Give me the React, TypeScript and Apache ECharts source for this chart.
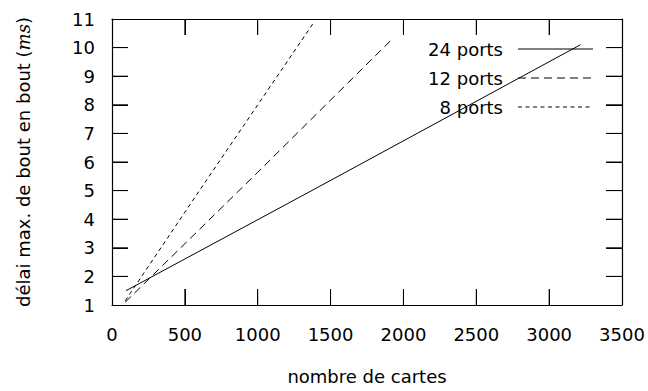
import React, { useEffect, useRef } from "react";
import * as echarts from "echarts";

const seriesNames = ["24 ports", "12 ports", "8 ports"];
const cards24 = [96, 1400, 3215];
const delay24 = [1.5, 5.08, 10.1];
const cards12 = [91, 1000, 1929];
const delay12 = [1.1, 5.64, 10.33];
const cards8 = [91, 600, 1381];
const delay8 = [1.15, 5.0, 10.85];
const dashTypes: any[] = ["solid", [8, 5], [4, 3.5]];
const xTicks = [0, 500, 1000, 1500, 2000, 2500, 3000, 3500];
const yTicks = [1, 2, 3, 4, 5, 6, 7, 8, 9, 10, 11];

const FONT = "DejaVu Sans";

export default function App() {
  const ref = useRef<HTMLDivElement>(null);
  useEffect(() => {
    if (!ref.current) return;
    const chart = echarts.init(ref.current, null, { renderer: "svg" });
    const pairs = (xs: number[], ys: number[]) => xs.map((x, i) => [x, ys[i]]);
    const datasets = [pairs(cards24, delay24), pairs(cards12, delay12), pairs(cards8, delay8)];
    const axisLine = () => ({ show: true, onZero: false, lineStyle: { color: "#000", width: 1.2 } });
    const tick = () => ({ show: true, inside: true, length: 16, lineStyle: { color: "#000", width: 1 } });
    const xMin = xTicks[0], xMax = xTicks[xTicks.length - 1];
    const yMin = yTicks[0], yMax = yTicks[yTicks.length - 1];
    const lbl = { fontFamily: FONT, fontSize: 18, color: "#000" };

    const legendRows = [49, 78, 107];
    const legendGraphics: any[] = [];
    seriesNames.forEach((name, i) => {
      legendGraphics.push({
        type: "text",
        x: 503,
        y: legendRows[i],
        style: { text: name, fill: "#000", font: `18px "${FONT}"`, align: "right", verticalAlign: "middle" },
      });
      legendGraphics.push({
        type: "line",
        shape: { x1: 518, y1: legendRows[i], x2: 593, y2: legendRows[i] },
        style: { stroke: "#000", lineWidth: 1, lineDash: dashTypes[i] === "solid" ? null : dashTypes[i] },
      });
    });

    chart.setOption({
      animation: false,
      grid: [{ left: 112, right: 26, top: 19, bottom: 86 }],
      graphic: legendGraphics,
      xAxis: [
        {
          type: "value",
          min: xMin,
          max: xMax,
          interval: 500,
          name: "nombre de cartes",
          nameLocation: "middle",
          nameGap: 62,
          nameTextStyle: lbl,
          axisLine: axisLine(),
          axisTick: tick(),
          axisLabel: { ...lbl, margin: 20, formatter: (v: number) => String(v) },
          splitLine: { show: false },
        },
        {
          type: "value",
          position: "top",
          min: xMin,
          max: xMax,
          interval: 500,
          axisLine: axisLine(),
          axisTick: tick(),
          axisLabel: { show: false },
          splitLine: { show: false },
        },
      ],
      yAxis: [
        {
          type: "value",
          min: yMin,
          max: yMax,
          interval: 1,
          name: "{a|délai max. de bout en bout (}{i|ms}{a|)}",
          nameLocation: "middle",
          nameRotate: 90,
          nameGap: 80,
          nameTextStyle: {
            ...lbl,
            rich: {
              a: { fontFamily: FONT, fontSize: 18, color: "#000" },
              i: { fontFamily: "DejaVu Serif", fontStyle: "italic", fontSize: 18, color: "#000" },
            },
          },
          axisLine: axisLine(),
          axisTick: tick(),
          axisLabel: { ...lbl, margin: 17 },
          splitLine: { show: false },
        },
        {
          type: "value",
          position: "right",
          min: yMin,
          max: yMax,
          interval: 1,
          axisLine: axisLine(),
          axisTick: tick(),
          axisLabel: { show: false },
          splitLine: { show: false },
        },
      ],
      series: seriesNames.map((name, i) => ({
        name,
        type: "line",
        xAxisIndex: 0,
        yAxisIndex: 0,
        data: datasets[i],
        symbol: "none",
        itemStyle: { color: "#000" },
        lineStyle: { color: "#000", width: 1, type: dashTypes[i] },
      })),
    });

    // mirrored inward tick marks on all four sides, placed through the axes' own scales
    const finder = { xAxisIndex: 0, yAxisIndex: 0 };
    const toPx = (x: number, y: number) => chart.convertToPixel(finder, [x, y]) as number[];
    const bottomY = toPx(xMin, yMin)[1];
    const topY = toPx(xMin, yMax)[1];
    const leftX = toPx(xMin, yMin)[0];
    const rightX = toPx(xMax, yMin)[0];
    const TL = 16;
    const tickStyle = { stroke: "#000", lineWidth: 1 };
    const tickGraphics: any[] = [];
    xTicks.slice(1, -1).forEach((v) => {
      const px = toPx(v, yMin)[0];
      tickGraphics.push({ type: "line", silent: true, shape: { x1: px, y1: bottomY, x2: px, y2: bottomY - TL }, style: tickStyle });
      tickGraphics.push({ type: "line", silent: true, shape: { x1: px, y1: topY, x2: px, y2: topY + TL }, style: tickStyle });
    });
    yTicks.slice(1, -1).forEach((v) => {
      const py = toPx(xMin, v)[1];
      tickGraphics.push({ type: "line", silent: true, shape: { x1: leftX, y1: py, x2: leftX + TL, y2: py }, style: tickStyle });
      tickGraphics.push({ type: "line", silent: true, shape: { x1: rightX, y1: py, x2: rightX - TL, y2: py }, style: tickStyle });
    });
    chart.setOption({ graphic: [...legendGraphics, ...tickGraphics] });

    return () => chart.dispose();
  }, []);
  return <div ref={ref} style={{ width: 648, height: 391, position: "absolute", left: 0, top: 0, background: "#fff" }} />;
}
